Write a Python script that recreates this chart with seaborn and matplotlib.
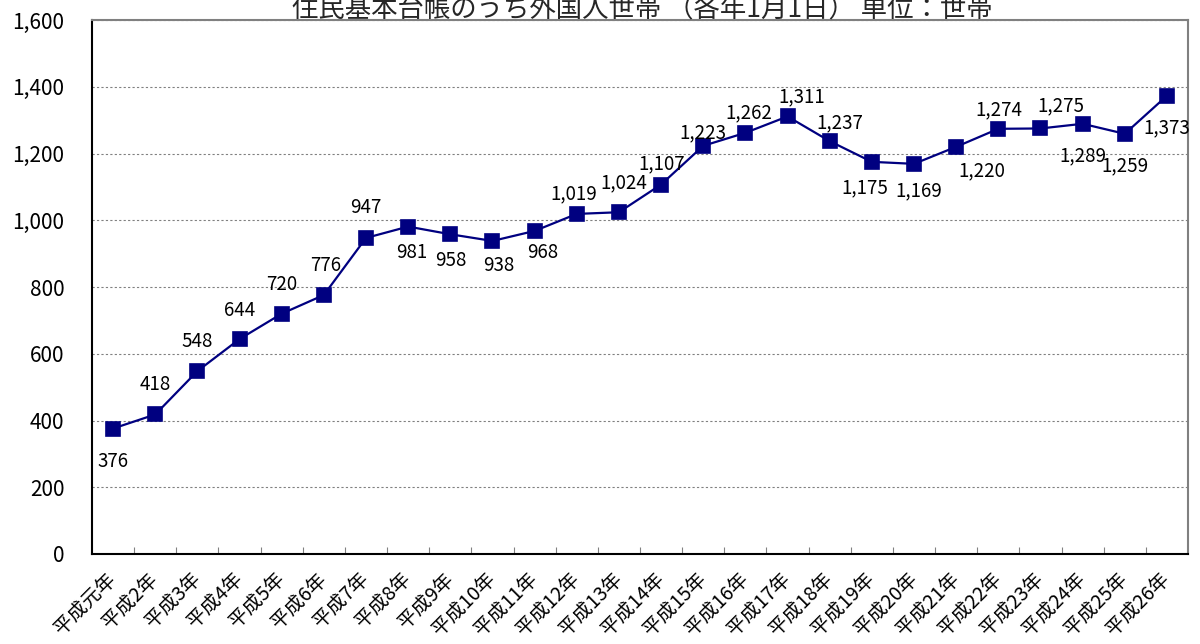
import matplotlib
matplotlib.use('Agg')
import matplotlib.pyplot as plt
from matplotlib.ticker import FuncFormatter, FixedLocator
import seaborn as sns

# 住民基本台帳のうち外国人世帯（各年1月1日）
years = ['平成元年'] + [f'平成{n}年' for n in range(2, 27)]
households = [376, 418, 548, 644, 720, 776, 947, 981, 958, 938, 968, 1019, 1024,
              1107, 1223, 1262, 1311, 1237, 1175, 1169, 1220, 1274, 1275, 1289,
              1259, 1373]

# label offsets (pixels, right / up) picked to match the original placement
label_dx = [0, 0, 0, 0, 0, 2, 0, 4, 1, 6, 8, -3, 5, 1, 0, 3, 14, 10, -7, 5,
            26, 1, 20, 0, 0, 0]
label_dy = [-33, 30, 30, 29, 29, 30, 30, -26, -26, -25, -22, 20, 29, 21, 13, 20,
            20, 18, -26, -27, -24, 19, 23, -32, -32, -32]

sns.set_theme(style='white')
plt.rcParams['font.family'] = ['Noto Sans CJK JP', 'DejaVu Sans']

fig = plt.figure(figsize=(12, 6.44), dpi=100)
ax = fig.add_axes([92 / 1200, 90 / 644, 1096 / 1200, 534 / 644])

sns.pointplot(x=years, y=households, color='#000080', markers='s',
              errorbar=None, markersize=10, linewidth=1.6, ax=ax)

for i, v in enumerate(households):
    ax.annotate(f'{v:,}', (i, v), xytext=(label_dx[i], label_dy[i]),
                textcoords='offset pixels', ha='center', va='center',
                fontsize=13.5, color='black')

ax.set_xlim(-0.5, len(years) - 0.5)
ax.set_ylim(0, 1600)
ax.set_yticks(range(0, 1601, 200))
ax.yaxis.set_major_formatter(FuncFormatter(lambda v, p: f'{int(v):,}'))
ax.tick_params(axis='y', length=0, pad=20, labelsize=15, labelcolor='black')

ax.xaxis.set_minor_locator(FixedLocator([i + 0.5 for i in range(len(years) - 1)]))
ax.tick_params(axis='x', which='major', length=0, pad=16, labelsize=14,
               labelcolor='black')
ax.tick_params(axis='x', which='minor', direction='in', length=5, width=0.8,
               color='#808080', bottom=True)
plt.setp(ax.get_xticklabels(), rotation=45, ha='right', va='center',
         rotation_mode='anchor')
ax.set_xlabel('')
ax.set_ylabel('')

ax.yaxis.grid(True, linestyle=(0, (2, 2)), color='#808080', linewidth=0.8)
ax.xaxis.grid(False)
for side in ['left', 'bottom']:
    ax.spines[side].set_color('black')
    ax.spines[side].set_linewidth(1.5)
for side in ['top', 'right']:
    ax.spines[side].set_color('#808080')
    ax.spines[side].set_linewidth(1.5)

# the title sits right at the top edge, as in the original
fig.text(642 / 1200, 1 - 17 / 644,
         '住民基本台帳のうち外国人世帯 （各年1月1日） 単位：世帯',
         ha='center', va='baseline', fontsize=19)

fig.savefig('out.png', dpi=100)
